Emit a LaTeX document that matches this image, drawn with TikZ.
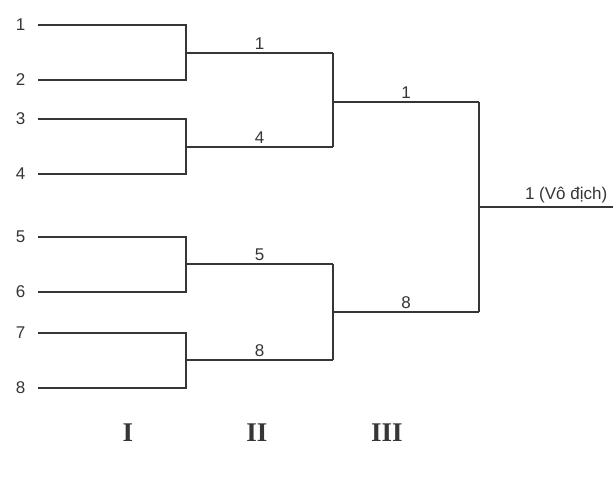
\documentclass[tikz,border=0pt]{standalone}
\usepackage{fontspec}
\usepackage{tikz}
\usepackage{xcolor}
\newfontfamily\teamfont{Liberation Sans}
\newfontfamily\roundfont{Liberation Serif}
\definecolor{ink}{HTML}{363636}

\begin{document}
\begin{tikzpicture}[x=1pt,y=-1pt,line width=1.1pt,draw=ink,
  team/.style={font=\teamfont\fontsize{17}{20}\selectfont,text=ink,inner sep=0pt},
  win/.style={font=\teamfont\fontsize{17}{20}\selectfont,text=ink,inner sep=3pt},
  round/.style={font=\roundfont\bfseries\fontsize{27}{32}\selectfont,text=ink}]
\useasboundingbox [fill=white] (0,0) rectangle (613,491);
% teams
\foreach \n/\y in {1/25,2/80,3/119,4/174,5/237,6/292,7/333,8/388}{
  \node [team, left] (t\n) at (26,\y) {\n};
  \coordinate (s\n) at (38,\y);
}
% joints of round I
\coordinate (m12) at (186,53);
\coordinate (m34) at (186,147);
\coordinate (m56) at (186,264);
\coordinate (m78) at (186,360);
% joints of round II
\coordinate (w1) at (333,53);
\coordinate (w4) at (333,147);
\coordinate (w5) at (333,264);
\coordinate (w8) at (333,360);
\coordinate (m14) at (333,102);
\coordinate (m58) at (333,312);
% round III
\coordinate (f1) at (479,102);
\coordinate (f8) at (479,312);
\coordinate (mf) at (479,207);
\coordinate (champ) at (613,207);

\draw (s1) -| (m12) |- (s2);
\draw (s3) -| (m34) |- (s4);
\draw (s5) -| (m56) |- (s6);
\draw (s7) -| (m78) |- (s8);
\draw (m12) -- node [win, above] {1} (w1);
\draw (m34) -- node [win, above] {4} (w4);
\draw (m56) -- node [win, above] {5} (w5);
\draw (m78) -- node [win, above] {8} (w8);
\draw (w1) -- (w4);
\draw (w5) -- (w8);
\draw (m14) -- node [win, above] {1} (f1);
\draw (m58) -- node [win, above] {8} (f8);
\draw (f1) -- (f8);
\draw (mf) -- node [win, above, pos=0.65] {1 (Vô địch)} (champ);

% rounds
\node [round] (r1) at (128,433) {I};
\node [round] (r2) at (257,433) {II};
\node [round] (r3) at (387,433) {III};
\end{tikzpicture}
\end{document}
